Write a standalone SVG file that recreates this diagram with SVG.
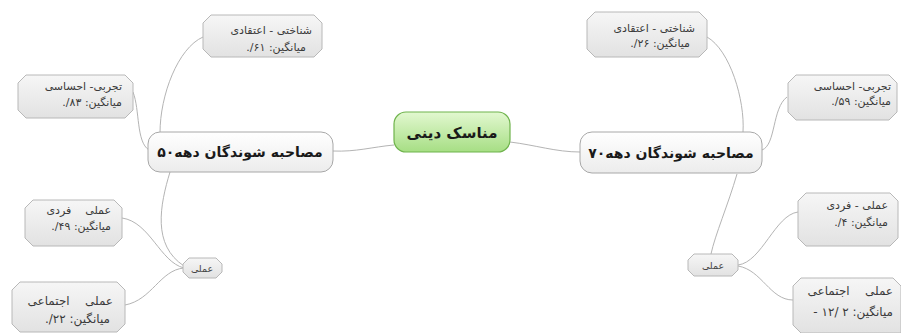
<svg xmlns="http://www.w3.org/2000/svg" width="901" height="333" viewBox="0 0 901 333">
<defs>
<linearGradient id="gGreen" x1="0" y1="0" x2="0" y2="1"><stop offset="0" stop-color="#e2f8d0"/><stop offset="1" stop-color="#a6de84"/></linearGradient>
<linearGradient id="gMain" x1="0" y1="0" x2="0" y2="1"><stop offset="0" stop-color="#ffffff"/><stop offset="1" stop-color="#ececec"/></linearGradient>
<linearGradient id="gLeaf" x1="0" y1="0" x2="0" y2="1"><stop offset="0" stop-color="#f6f6f6"/><stop offset="1" stop-color="#e2e2e2"/></linearGradient>
</defs>
<style>
.con{fill:none;stroke:#b4b4b4;stroke-width:1}
.main{fill:url(#gMain);stroke:#a8a8a8;stroke-width:1}
.leaf{fill:url(#gLeaf);stroke:#b8b8b8;stroke-width:1}
.t{font-family:"DejaVu Sans",sans-serif;direction:rtl;white-space:pre}
.lt{font-size:11px;fill:#3a3a3a}
.mt{font-size:14px;font-weight:bold;fill:#1a1a1a}
</style>
<rect width="901" height="333" fill="#ffffff"/>
<g id="connectors">
<path class="con" d="M394,145 C372,147 356,152 333,151"/>
<path class="con" d="M510,142 C535,145 556,152 580,152"/>
<path class="con" d="M203,37 C178,48 160,95 160,133"/>
<path class="con" d="M133,92 C140,110 136,142 149,150"/>
<path class="con" d="M170,172 C160,205 152,245 184,266"/>
<path class="con" d="M122,218 C150,222 160,262 184,268"/>
<path class="con" d="M125,305 C152,300 160,270 184,268"/>
<path class="con" d="M707,37 C730,50 745,100 743,132"/>
<path class="con" d="M787,97 C772,108 776,145 762,150"/>
<path class="con" d="M737,174 C728,205 715,235 711,254"/>
<path class="con" d="M738,265 C762,262 775,215 798,212"/>
<path class="con" d="M738,266 C762,270 770,300 793,300"/>
</g>
<g id="center">
<rect x="394" y="112" width="116" height="40" rx="12" fill="url(#gGreen)" stroke="#6fb34c" stroke-width="1.2"/>
<text class="t" x="452" y="138" font-size="15" font-weight="bold" fill="#1a1a1a" text-anchor="middle">مناسک دینی</text>
</g>
<g id="main50">
<rect class="main" x="148" y="132" width="185" height="40" rx="12"/>
<text class="t mt" x="240" y="157" text-anchor="middle">مصاحبه شوندگان دهه۵۰</text>
</g>
<g id="main70">
<rect class="main" x="580" y="132" width="182" height="41" rx="12"/>
<text class="t mt" x="671" y="158" text-anchor="middle">مصاحبه شوندگان دهه۷۰</text>
</g>
<g id="leaf50a">
<polygon class="leaf" points="211,15 314,15 322,23 322,49 314,57 211,57 203,49 203,23"/>
<text class="t lt" x="312" y="34" text-anchor="start">شناختی - اعتقادی</text>
<text class="t lt" x="306" y="51" text-anchor="start">میانگین: ۶۱/.</text>
</g>
<g id="leaf50b">
<polygon class="leaf" points="26,75 125,75 133,83 133,110 125,118 26,118 18,110 18,83"/>
<text class="t lt" x="122" y="90" text-anchor="start">تجربی- احساسی</text>
<text class="t lt" x="122" y="106" text-anchor="start">میانگین: ۸۳/.</text>
</g>
<g id="amali50">
<polygon class="leaf" points="189,258 216,258 222,264 222,272 216,278 189,278 183,272 183,264"/>
<text class="t" x="202" y="272" font-size="9.5" fill="#444" text-anchor="middle">عملی</text>
</g>
<g id="leaf50c">
<polygon class="leaf" points="33,200 114,200 122,208 122,238 114,246 33,246 25,238 25,208"/>
<text class="t lt" x="111" y="214" text-anchor="start">عملی    فردی</text>
<text class="t lt" x="111" y="230" text-anchor="start">میانگین: ۴۹/.</text>
</g>
<g id="leaf50d">
<polygon class="leaf" points="20,282 117,282 125,290 125,324 117,332 20,332 12,324 12,290"/>
<text class="t" x="113" y="305" font-size="12" fill="#3a3a3a" text-anchor="start">عملی    اجتماعی</text>
<text class="t" x="110" y="323" font-size="12" fill="#3a3a3a" text-anchor="start">میانگین: ۲۲/.</text>
</g>
<g id="leaf70a">
<polygon class="leaf" points="595,12 699,12 707,20 707,49 699,57 595,57 587,49 587,20"/>
<text class="t lt" x="695" y="32" text-anchor="start">شناختی - اعتقادی</text>
<text class="t lt" x="690" y="47" text-anchor="start">میانگین: ۲۶/.</text>
</g>
<g id="leaf70b">
<polygon class="leaf" points="796,75 889,75 897,83 897,112 889,120 796,120 788,112 788,83"/>
<text class="t lt" x="891" y="90" text-anchor="start">تجربی- احساسی</text>
<text class="t lt" x="891" y="105" text-anchor="start">میانگین: ۵۹/.</text>
</g>
<g id="amali70">
<polygon class="leaf" points="694,254 732,254 738,260 738,270 732,276 694,276 688,270 688,260"/>
<text class="t" x="713" y="269" font-size="9.5" fill="#444" text-anchor="middle">عملی</text>
</g>
<g id="leaf70c">
<polygon class="leaf" points="806,193 890,193 898,201 898,238 890,246 806,246 798,238 798,201"/>
<text class="t lt" x="888" y="209" text-anchor="start">عملی - فردی</text>
<text class="t lt" x="888" y="226" text-anchor="start">میانگین: ۴/.</text>
</g>
<g id="leaf70d">
<polygon class="leaf" points="801,278 893,278 901,286 901,333 801,333 793,325 793,286"/>
<text class="t" x="893" y="295" font-size="12" fill="#3a3a3a" text-anchor="start">عملی    اجتماعی</text>
<text class="t" x="893" y="316" font-size="12" fill="#3a3a3a" text-anchor="start">میانگین: ۲ /۱۲ -</text>
</g>
</svg>
